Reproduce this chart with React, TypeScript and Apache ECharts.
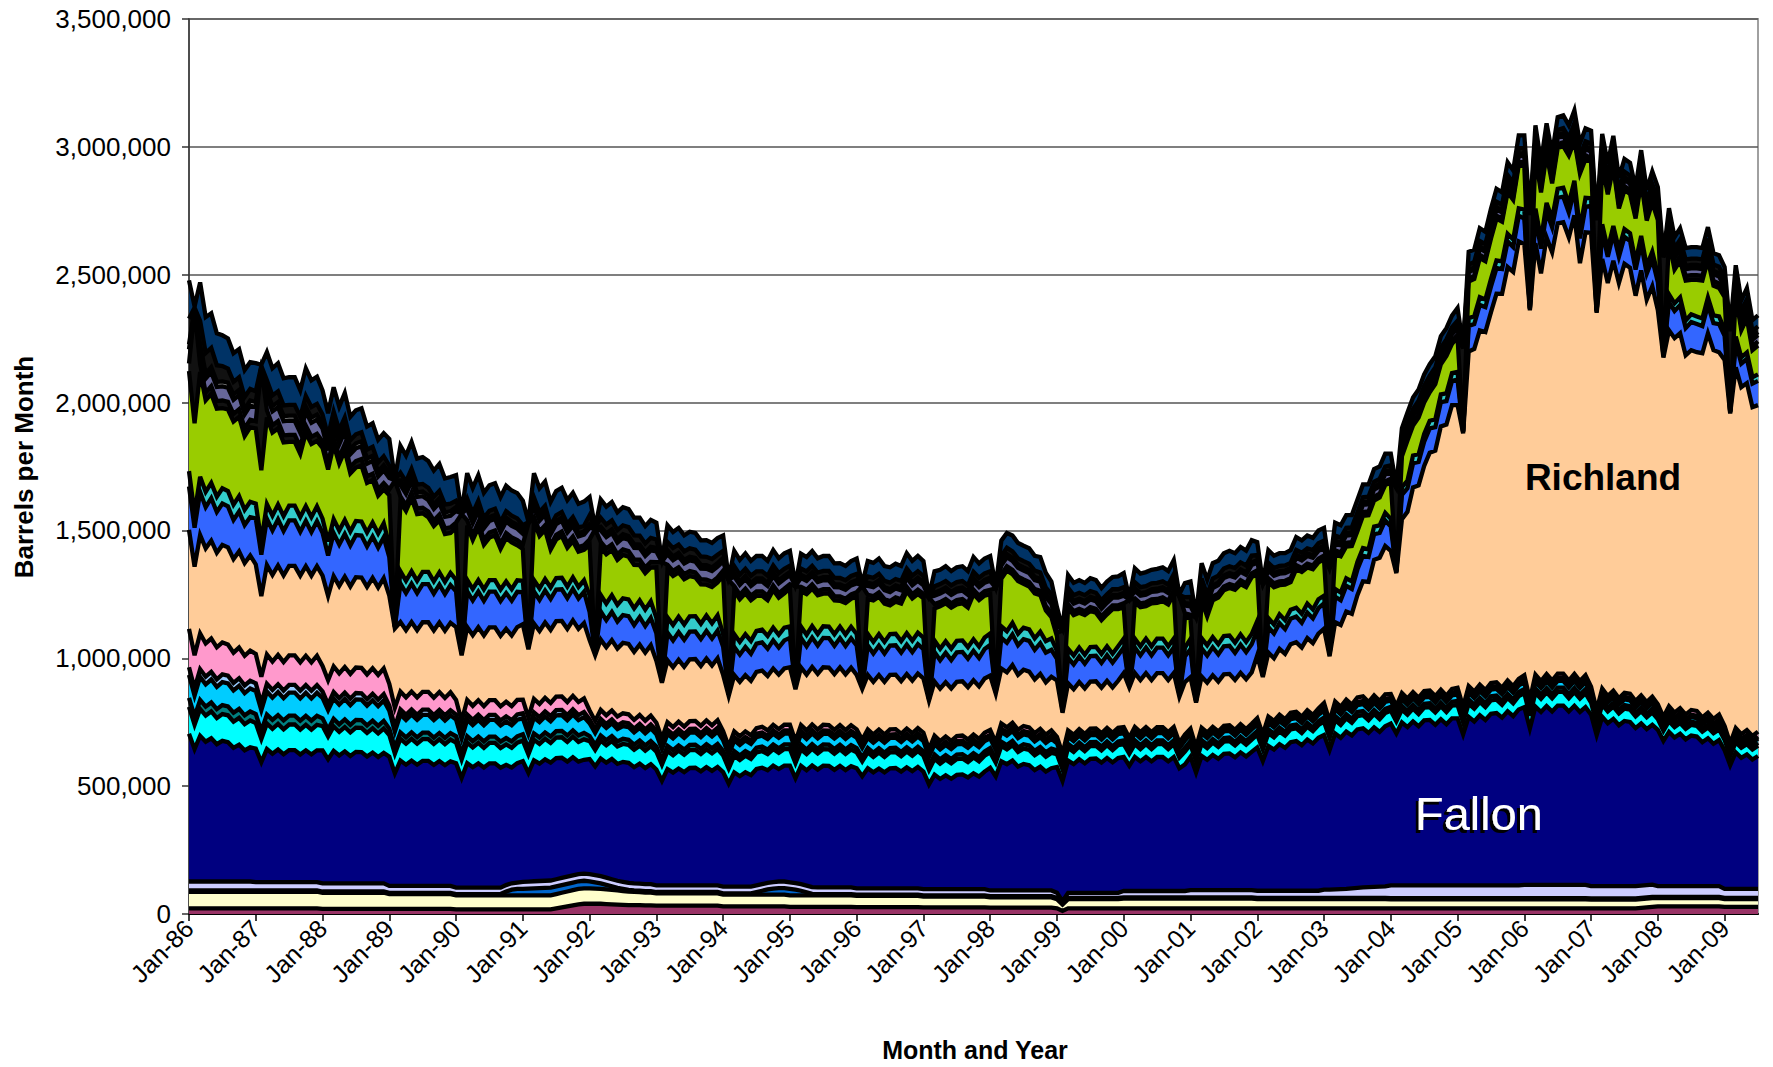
import React, { useEffect, useRef } from "react";
import * as echarts from "echarts";

// ---- categories / tick labels ----
const MONTHS = ["Jan","Feb","Mar","Apr","May","Jun","Jul","Aug","Sep","Oct","Nov","Dec"];
const FIRST_YEAR = 1986;
const MONTH_COUNT = 283; // Jan-86 .. Jul-09
const Y_TICKS = [0, 500000, 1000000, 1500000, 2000000, 2500000, 3000000, 3500000];

// ---- series values, thousands of barrels per month (one row per year) ----
const maroon = [
[22,22,22,22,22,22,22,22,22,22,22,22],[22,22,22,22,22,22,22,22,22,22,22,22],[20,20,20,20,20,20,20,20,20,20,20,20],
[20,20,20,20,20,20,20,20,20,20,20,20],[18,18,18,18,18,18,18,18,18,18,18,18],[18,18,18,18,18,18,22,26,30,34,38,40],
[40,40,40,39,38,37,36,35,35,35,34,34],[33,33,33,33,33,33,33,33,33,33,33,33],[30,30,30,30,30,30,30,30,30,30,30,30],
[28,28,28,28,28,28,28,28,28,28,28,28],[27,27,27,27,27,27,27,27,27,27,27,27],[26,26,26,26,26,26,26,26,26,26,26,26],
[25,25,25,25,25,25,25,25,25,25,25,25],[22,12,22,22,22,22,22,22,22,22,22,22],[22,22,22,22,22,22,22,22,22,22,22,22],
[22,22,22,22,22,22,22,22,22,22,22,22],[22,22,22,22,22,22,22,22,22,22,22,22],[22,22,22,22,22,22,22,22,22,22,22,22],
[22,22,22,22,22,22,22,22,22,22,22,22],[22,22,22,22,22,22,22,22,22,22,22,22],[22,22,22,22,22,22,22,22,22,22,22,22],
[22,22,22,22,22,22,22,22,22,24,26,28],[30,30,30,30,30,30,30,30,30,30,30,30],[28,28,28,28,28,28,28]
].flat();

const yellow = [
[65,65,65,65,65,65,65,65,65,65,65,65],[65,65,65,65,65,65,65,65,65,65,65,65],[63,63,63,63,63,63,63,63,63,63,63,63],
[58,58,58,58,58,58,58,58,58,58,58,58],[55,55,55,55,55,55,55,55,55,55,55,55],[55,55,55,55,55,55,56,57,58,59,60,60],
[60,59,58,57,56,55,54,53,52,51,50,50],[48,48,48,48,48,48,48,48,48,48,48,48],[46,46,46,46,46,46,46,46,46,46,46,46],
[45,45,45,45,45,45,45,45,45,45,45,45],[44,44,44,44,44,44,44,44,44,44,44,44],[42,42,42,42,42,42,42,42,42,42,42,42],
[40,40,40,40,40,40,40,40,40,40,40,40],[36,25,36,36,36,36,36,36,36,36,36,36],[38,38,38,38,38,38,38,38,38,38,38,38],
[38,38,38,38,38,38,38,38,38,38,38,38],[36,36,36,36,36,36,36,36,36,36,36,36],[36,36,36,36,36,36,36,36,36,36,36,36],
[35,35,35,35,35,35,35,35,35,35,35,35],[35,35,35,35,35,35,35,35,35,35,35,35],[35,35,35,35,35,35,35,35,35,35,35,35],
[34,34,34,34,34,34,34,34,34,34,34,34],[32,32,32,32,32,32,32,32,32,32,32,32],[30,30,30,30,30,30,30]
].flat();

const blueSmall = [
[5,5,5,5,5,5,5,5,5,5,5,5],[5,5,5,5,5,5,5,5,5,5,5,5],[5,5,5,5,5,5,5,5,5,5,5,5],
[5,5,5,5,5,5,5,5,5,5,5,5],[5,5,5,5,5,5,5,5,5,15,22,25],[25,26,27,28,29,30,30,30,30,30,30,30],
[28,25,22,18,14,10,8,6,5,5,5,5],[5,5,5,5,5,5,5,5,5,5,5,5],[5,5,5,5,5,5,10,15,20,23,25,25],
[25,22,18,12,6,5,5,5,5,5,5,5],[5,5,5,5,5,5,5,5,5,5,5,5],[5,5,5,5,5,5,5,5,5,5,5,5],
[5,5,5,5,5,5,5,5,5,5,5,5],[5,3,5,5,5,5,5,5,5,5,5,5],[5,5,5,5,5,5,5,5,5,5,5,5],
[5,5,5,5,5,5,5,5,5,5,5,5],[5,5,5,5,5,5,5,5,5,5,5,5],[5,5,5,5,5,5,5,5,5,5,5,5],
[5,5,5,5,5,5,5,5,5,5,5,5],[5,5,5,5,5,5,5,5,5,5,5,5],[5,5,5,5,5,5,5,5,5,5,5,5],
[5,5,5,5,5,5,5,5,5,5,5,5],[5,5,5,5,5,5,5,5,5,5,5,5],[5,5,5,5,5,5,5]
].flat();

const lavender = [
[35,35,35,35,35,35,35,35,35,35,35,35],[33,33,33,33,33,33,33,33,33,33,33,33],[32,32,32,32,32,32,32,32,32,32,32,32],
[27,27,27,27,27,27,27,27,27,27,27,27],[25,25,25,25,25,25,25,25,25,25,25,25],[28,28,28,28,28,28,28,28,28,28,28,28],
[28,28,28,28,28,28,28,28,28,28,28,28],[26,26,26,26,26,26,26,26,26,26,26,26],[26,26,26,26,26,26,26,26,26,26,26,26],
[26,26,26,26,26,26,26,26,26,26,26,26],[24,24,24,24,24,24,24,24,24,24,24,24],[24,24,24,24,24,24,24,24,24,24,24,24],
[22,22,22,22,22,22,22,22,22,22,22,22],[20,10,20,20,20,20,20,20,20,20,20,20],[25,25,25,25,25,25,25,25,25,25,25,25],
[28,28,28,28,28,28,28,28,28,28,28,28],[28,28,28,28,28,28,28,28,28,28,28,28],[32,32,33,34,35,37,39,41,42,43,44,45],
[50,50,50,50,50,50,50,50,50,50,50,50],[50,50,50,50,50,50,50,50,50,50,50,50],[52,52,52,52,52,52,52,52,52,52,52,52],
[48,48,48,48,48,48,48,48,48,48,48,48],[42,42,42,42,42,42,42,42,42,42,42,42],[35,35,35,35,35,35,35]
].flat();

const fallon = [
[578,518,570,547,560,537,550,545,523,535,513,525],[522,469,520,502,518,500,516,516,499,515,499,515],
[520,485,518,500,516,498,514,513,496,511,494,510],[505,440,490,474,490,474,489,489,473,488,472,487],
[487,429,487,471,486,470,486,486,469,470,453,467],[472,425,473,459,475,461,474,470,450,462,440,445],
[450,425,460,450,470,457,469,469,454,469,454,469],[453,409,455,441,457,443,459,460,446,462,448,463],
[448,403,447,432,447,436,455,455,440,455,440,453],[456,410,462,451,476,461,476,475,460,475,459,474],
[470,439,470,454,469,454,470,471,457,473,459,475],[460,410,448,431,445,432,447,449,437,453,440,460],
[480,446,505,494,508,484,495,490,471,484,465,478],[492,470,517,503,522,506,524,525,509,527,510,527],
[524,490,524,507,524,507,524,524,507,524,480,495],[522,460,525,510,529,514,533,535,520,539,523,541],
[560,507,566,552,573,559,581,585,569,591,576,598],[605,546,610,592,615,598,620,622,603,624,605,626],
[633,594,637,619,641,622,645,647,628,650,630,653],[653,590,659,641,665,647,671,674,656,681,662,688],
[695,612,697,676,699,678,701,701,678,700,676,695],[670,590,662,637,654,629,646,642,618,634,610,625],
[611,568,603,581,596,574,589,585,563,578,557,571],[542,484,534,513,526,506,520]
].flat();

const cyan = [
[105,95,105,102,105,102,105,105,102,105,102,105],[100,90,100,97,100,97,100,100,97,100,97,100],
[95,89,95,92,95,92,95,95,92,95,92,95],[85,77,85,82,85,82,85,85,82,85,82,85],
[80,72,80,77,80,77,80,80,77,80,77,80],[80,72,80,77,80,77,80,80,77,80,77,80],
[70,65,70,68,70,68,70,70,68,70,68,70],[70,63,70,68,70,68,70,70,68,70,68,70],
[65,59,65,63,65,63,65,65,63,65,63,65],[65,59,65,63,65,63,65,65,63,65,63,65],
[62,58,62,60,62,60,62,62,60,62,60,62],[62,56,62,60,62,60,62,62,60,62,60,62],
[60,54,60,58,60,58,60,60,58,60,58,60],[50,45,50,48,50,48,50,50,48,50,48,50],
[50,47,50,48,50,48,50,50,48,50,42,50],[48,43,48,46,48,46,48,48,46,48,46,48],
[50,45,50,48,50,48,50,50,48,50,48,50],[52,47,52,50,52,50,52,52,50,52,50,52],
[50,47,50,48,50,48,50,50,48,50,48,50],[52,47,52,50,52,50,52,52,50,52,50,52],
[54,49,54,52,54,52,54,54,52,54,52,54],[48,43,48,46,48,46,48,48,46,48,46,48],
[42,39,42,41,42,41,42,42,41,42,41,42],[40,36,40,39,40,39,40]
].flat();

const teal = [
[35,33,35,35,35,35,35,35,35,35,35,35],[35,32,35,35,35,35,35,35,35,35,35,35],[30,28,30,30,30,30,30,30,30,30,30,30],
[25,23,25,25,25,25,25,25,25,25,25,25],[25,23,25,25,25,25,25,25,25,25,25,25],[25,23,25,25,25,25,25,25,25,25,25,25],
[20,19,20,20,20,20,20,20,20,20,20,20],[20,18,20,20,20,20,20,20,20,20,20,20],[18,16,18,18,18,18,18,18,18,18,18,18],
[18,16,18,18,18,18,18,18,18,18,18,18],[17,16,17,17,17,17,17,17,17,17,17,17],[17,15,17,17,17,17,17,17,17,17,17,17],
[17,15,17,17,17,17,17,17,17,17,17,17],[15,14,15,15,15,15,15,15,15,15,15,15],[15,14,15,15,15,15,15,15,15,15,13,15],
[14,13,14,14,14,14,14,14,14,14,14,14],[15,14,15,15,15,15,15,15,15,15,15,15],[16,14,16,16,16,16,16,16,16,16,16,16],
[15,14,15,15,15,15,15,15,15,15,15,15],[16,14,16,16,16,16,16,16,16,16,16,16],[16,14,16,16,16,16,16,16,16,16,16,16],
[14,13,14,14,14,14,14,14,14,14,14,14],[12,11,12,12,12,12,12,12,12,12,12,12],[12,11,12,12,12,12,12]
].flat();

const sky = [
[90,81,90,87,90,87,90,90,87,90,87,90],[90,81,90,87,90,87,90,90,87,90,87,90],
[80,75,80,77,80,77,80,80,77,80,77,80],[70,63,70,68,70,68,70,70,68,70,68,70],
[65,59,65,63,65,63,65,65,63,65,63,65],[62,56,62,60,62,60,62,62,60,62,60,62],
[50,47,50,48,50,48,50,50,48,50,48,50],[48,43,48,46,48,46,48,48,46,48,46,48],
[42,38,42,41,42,41,42,42,41,42,41,42],[42,38,42,41,42,41,42,42,41,42,41,42],
[40,37,40,39,40,39,40,40,39,40,39,40],[40,36,40,39,40,39,40,40,39,40,39,40],
[38,34,38,37,38,37,38,38,37,38,37,38],[28,25,28,27,28,27,28,28,27,28,27,28],
[28,26,28,27,28,27,28,28,27,28,24,28],[26,23,26,25,26,25,26,26,25,26,25,26],
[25,22,25,24,25,24,25,25,24,25,24,25],[27,24,27,26,27,26,27,27,26,27,26,27],
[25,23,25,24,25,24,25,25,24,25,24,25],[26,23,26,25,26,25,26,26,25,26,25,26],
[27,24,27,26,27,26,27,27,26,27,26,27],[22,20,22,21,22,21,22,22,21,22,21,22],
[18,17,18,17,18,17,18,18,17,18,17,18],[16,14,16,15,16,15,16]
].flat();

const lightBlue = [
[30,28,30,30,30,30,30,30,30,30,30,30],[30,27,30,30,30,30,30,30,30,30,30,30],[25,23,25,25,25,25,25,25,25,25,25,25],
[20,18,20,20,20,20,20,20,20,20,20,20],[20,18,20,20,20,20,20,20,20,20,20,20],[20,18,20,20,20,20,20,20,20,20,20,20],
[15,14,15,15,15,15,15,15,15,15,15,15],[15,14,15,15,15,15,15,15,15,15,15,15],[13,12,13,13,13,13,13,13,13,13,13,13],
[13,12,13,13,13,13,13,13,13,13,13,13],[13,12,13,13,13,13,13,13,13,13,13,13],[13,12,13,13,13,13,13,13,13,13,13,13],
[13,12,13,13,13,13,13,13,13,13,13,13],[10,9,10,10,10,10,10,10,10,10,10,10],[10,9,10,10,10,10,10,10,10,10,9,10],
[10,9,10,10,10,10,10,10,10,10,10,10],[10,9,10,10,10,10,10,10,10,10,10,10],[12,11,12,12,12,12,12,12,12,12,12,12],
[10,9,10,10,10,10,10,10,10,10,10,10],[11,10,11,11,11,11,11,11,11,11,11,11],[12,11,12,12,12,12,12,12,12,12,12,12],
[10,9,10,10,10,10,10,10,10,10,10,10],[9,8,9,9,9,9,9,9,9,9,9,9],[8,7,8,8,8,8,8]
].flat();

const pink = [
[150,130,140,130,130,125,125,122,118,120,116,118],[115,104,115,111,115,111,115,115,111,115,111,115],
[100,94,100,97,100,97,100,100,97,100,97,100],[85,76,70,68,70,68,70,70,68,70,68,70],
[57,51,57,55,57,55,57,57,55,57,55,57],[53,48,53,51,53,51,53,53,51,53,51,53],
[35,33,35,34,35,34,35,35,34,35,34,35],[30,27,30,29,30,29,30,30,29,30,29,30],
[22,20,22,21,22,21,22,22,21,22,21,22],[22,20,22,21,22,21,22,22,21,22,21,22],
[20,19,20,19,20,19,20,20,19,20,19,20],[20,18,20,19,20,19,20,20,19,20,19,20],
[20,18,20,19,20,19,20,20,19,20,19,20],[15,14,15,15,15,15,15,15,15,15,15,15],
[14,13,14,14,14,14,14,14,14,14,12,14],[12,11,12,12,12,12,12,12,12,12,12,12],
[15,14,15,15,15,15,15,15,15,15,15,15],[18,16,18,17,18,17,18,18,17,18,17,18],
[15,14,15,15,15,15,15,15,15,15,15,15],[15,14,15,15,15,15,15,15,15,15,15,15],
[16,14,16,15,16,15,16,16,15,16,15,16],[16,14,16,15,16,15,16,16,15,16,15,16],
[19,18,19,18,19,18,19,19,18,19,18,19],[19,17,19,18,19,18,19]
].flat();

const richland = [
[387,346,385,372,383,370,381,380,366,376,362,372],[350,315,350,339,350,339,350,350,339,350,339,350],
[353,330,353,342,353,342,353,353,342,353,342,353],[345,310,272,263,272,263,272,272,263,272,263,272],
[285,257,285,276,285,276,285,285,276,285,276,285],[295,266,295,286,295,286,295,295,286,295,286,295],
[275,257,275,266,275,266,275,275,266,275,266,275],[242,218,242,234,242,234,242,242,234,242,234,242],
[220,198,220,213,220,213,220,220,213,220,213,220],[225,203,225,218,225,218,225,225,218,225,218,225],
[213,199,213,206,213,206,213,213,206,213,206,213],[212,191,212,205,212,205,212,212,205,212,205,212],
[212,191,215,215,225,215,220,218,210,215,205,210],[220,160,184,178,184,178,184,184,178,184,178,184],
[211,197,211,204,211,204,211,211,204,211,180,205],[201,175,201,195,201,195,201,201,195,201,195,201],
[245,225,250,245,258,255,268,272,270,282,280,292],[290,255,310,320,345,355,400,450,470,530,560,580],
[560,520,680,730,800,830,880,930,960,1030,1060,1110],[1105,1070,1309,1340,1385,1400,1450,1520,1540,1617,1620,1710],
[1686,1523,1687,1594,1708,1675,1761,1765,1733,1793,1634,1732],[1775,1553,1681,1616,1682,1624,1678,1666,1585,1662,1573,1605],
[1541,1406,1471,1465,1466,1405,1407,1403,1424,1484,1442,1417],[1431,1290,1411,1357,1357,1286,1277]
].flat();

const blue = [
[170,153,168,161,166,159,162,160,153,156,149,150],[180,162,180,174,180,174,178,178,172,177,171,176],
[168,158,168,162,167,160,165,164,158,162,156,160],[150,5,150,145,150,145,149,149,144,148,143,147],
[140,5,140,136,140,136,140,140,136,140,136,138],[125,5,125,121,125,121,124,124,120,123,119,122],
[110,5,110,106,110,106,109,109,105,108,104,107],[108,5,108,105,108,105,108,108,105,108,105,108],
[110,5,110,106,110,106,110,110,106,110,106,110],[115,5,115,111,115,111,115,115,111,115,111,115],
[115,5,115,111,115,111,115,115,111,115,111,115],[115,5,115,111,115,111,115,115,111,115,111,115],
[120,5,120,116,120,116,120,120,116,120,116,105],[85,5,100,97,100,97,100,100,97,100,97,100],
[100,5,100,97,100,97,100,100,97,100,5,100],[110,5,110,106,110,106,110,110,106,110,106,110],
[100,5,100,97,100,97,100,100,97,100,97,100],[100,5,100,97,100,97,100,100,97,100,97,100],
[95,5,95,92,95,92,95,95,92,95,92,95],[100,5,100,97,100,97,100,100,97,100,97,100],
[100,5,100,97,100,97,100,100,97,100,97,100],[105,5,105,102,105,102,105,105,102,105,102,105],
[110,5,110,106,110,106,110,110,106,110,106,110],[95,5,95,92,95,92,95]
].flat();

const turquoise = [
[60,54,60,60,60,60,60,60,60,60,60,60],[58,52,58,58,58,58,58,58,58,58,58,58],[55,55,55,55,55,55,55,55,55,55,55,55],
[48,2,48,48,48,48,48,48,48,48,48,48],[45,2,45,45,45,45,45,45,45,45,45,45],[45,2,45,45,45,45,45,45,45,45,45,45],
[65,2,65,65,65,65,65,65,65,65,65,65],[60,2,60,60,60,60,60,60,60,60,60,60],[50,2,50,50,50,50,50,50,50,50,50,50],
[45,2,45,45,45,45,45,45,45,45,45,45],[45,2,45,45,45,45,45,45,45,45,45,45],[45,2,45,45,45,45,45,45,45,45,45,45],
[45,2,45,45,45,45,45,45,45,45,45,45],[31,2,35,35,35,35,35,35,35,35,35,35],[35,2,35,35,35,35,35,35,35,35,2,35],
[40,2,40,40,40,40,40,40,40,40,40,40],[35,2,35,35,35,35,35,35,35,35,35,35],[30,2,30,30,30,30,30,30,30,30,30,30],
[30,2,30,30,30,30,30,30,30,30,30,30],[30,2,30,30,30,30,30,30,30,30,30,30],[35,2,35,35,35,35,35,35,35,35,35,35],
[30,2,30,30,30,30,30,30,30,30,30,30],[30,2,30,30,30,30,30,30,30,30,30,30],[25,2,25,25,25,25,25]
].flat();

const green = [
[391,354,410,358,348,344,313,319,325,310,288,291],[294,278,339,325,298,288,249,249,246,286,286,256],
[277,281,291,262,271,227,209,219,194,166,148,132],[195,3,271,273,286,261,229,214,216,204,187,156],
[204,3,212,192,205,174,166,174,159,170,183,137],[124,3,229,205,192,148,151,163,152,142,138,119],
[197,3,185,193,177,176,170,167,170,138,142,132],[198,3,186,192,174,177,157,151,154,121,142,128],
[229,3,170,167,160,159,137,132,140,147,145,134],[148,3,138,159,146,151,128,129,132,101,123,110],
[146,3,136,162,147,150,112,125,147,164,165,151],[154,3,126,166,149,160,143,145,155,177,182,164],
[154,3,186,237,191,206,171,168,176,143,120,83],[57,3,160,158,136,155,141,133,132,125,174,145],
[123,3,142,153,127,168,140,146,163,174,3,119],[79,3,148,113,144,183,179,186,207,197,214,222],
[183,3,141,146,114,139,108,151,164,141,157,144],[142,3,136,142,124,138,120,126,133,102,109,108],
[145,3,121,157,117,144,123,111,138,118,146,115],[133,3,143,146,153,150,158,163,155,163,155,168],
[170,3,206,185,191,137,160,163,188,156,219,151],[142,3,232,214,231,159,153,154,170,213,178,192],
[213,3,209,132,143,156,135,143,148,147,116,111],[126,3,161,106,133,106,113]
].flat();

const darkA = [
[30,440,30,30,30,30,30,30,30,30,30,30],[28,400,28,28,28,28,28,28,28,28,28,28],[25,25,25,25,25,25,25,25,25,25,25,25],
[22,567,22,22,22,22,22,22,22,22,22,22],[20,542,20,20,20,20,20,20,20,20,20,20],[18,482,18,18,18,18,18,18,18,18,18,18],
[22,482,22,22,22,22,22,22,22,22,22,22],[20,462,20,20,20,20,20,20,20,20,20,20],[18,442,18,18,18,18,18,18,18,18,18,18],
[17,392,17,17,17,17,17,17,17,17,17,17],[17,392,17,17,17,17,17,17,17,17,17,17],[17,392,17,17,17,17,17,17,17,17,17,17],
[17,402,17,17,17,17,17,17,17,17,17,17],[13,312,15,15,15,15,15,15,15,15,15,15],[15,332,15,15,15,15,15,15,15,15,382,15],
[15,322,15,15,15,15,15,15,15,15,15,15],[15,352,15,15,15,15,15,15,15,15,15,15],[15,332,15,15,15,15,15,15,15,15,15,15],
[12,322,12,12,12,12,12,12,12,12,12,12],[12,322,12,12,12,12,12,12,12,12,12,12],[15,362,15,15,15,15,15,15,15,15,15,15],
[15,352,15,15,15,15,15,15,15,15,15,15],[18,382,18,18,18,18,18,18,18,18,18,18],[16,312,16,16,16,16,16]
].flat();

const slate = [
[55,5,55,55,55,55,55,55,55,55,55,55],[55,3,55,55,55,55,55,55,55,55,55,55],[50,50,50,50,50,50,50,50,50,50,50,50],
[45,2,45,45,45,45,45,45,45,45,45,45],[45,2,45,45,45,45,45,45,45,45,45,45],[42,2,42,42,42,42,42,42,42,42,42,42],
[45,2,45,45,45,45,45,45,45,45,45,45],[42,2,42,42,42,42,42,42,42,42,42,42],[38,2,38,38,38,38,38,38,38,38,38,38],
[35,2,35,35,35,35,35,35,35,35,35,35],[35,2,35,35,35,35,35,35,35,35,35,35],[33,2,33,33,33,33,33,33,33,33,33,33],
[35,2,35,35,35,35,35,35,35,35,35,35],[27,2,30,30,30,30,30,30,30,30,30,30],[30,2,30,30,30,30,30,30,30,30,2,30],
[33,2,33,33,33,33,33,33,33,33,33,33],[30,2,30,30,30,30,30,30,30,30,30,30],[28,2,28,28,28,28,28,28,28,28,28,28],
[25,2,25,25,25,25,25,25,25,25,25,25],[25,2,25,25,25,25,25,25,25,25,25,25],[25,2,25,25,25,25,25,25,25,25,25,25],
[25,2,25,25,25,25,25,25,25,25,25,25],[27,2,27,27,27,27,27,27,27,27,27,27],[25,2,25,25,25,25,25]
].flat();

const grey = [
[20,2,20,20,20,20,20,20,20,20,20,20],[20,2,20,20,20,20,20,20,20,20,20,20],[20,20,20,20,20,20,20,20,20,20,20,20],
[18,1,18,18,18,18,18,18,18,18,18,18],[15,1,15,15,15,15,15,15,15,15,15,15],[12,1,12,12,12,12,12,12,12,12,12,12],
[14,1,14,14,14,14,14,14,14,14,14,14],[14,1,14,14,14,14,14,14,14,14,14,14],[12,1,12,12,12,12,12,12,12,12,12,12],
[12,1,12,12,12,12,12,12,12,12,12,12],[12,1,12,12,12,12,12,12,12,12,12,12],[12,1,12,12,12,12,12,12,12,12,12,12],
[12,1,12,12,12,12,12,12,12,12,12,12],[9,1,10,10,10,10,10,10,10,10,10,10],[10,1,10,10,10,10,10,10,10,10,1,10],
[10,1,10,10,10,10,10,10,10,10,10,10],[10,1,10,10,10,10,10,10,10,10,10,10],[10,1,10,10,10,10,10,10,10,10,10,10],
[8,1,8,8,8,8,8,8,8,8,8,8],[8,1,8,8,8,8,8,8,8,8,8,8],[10,1,10,10,10,10,10,10,10,10,10,10],
[10,1,10,10,10,10,10,10,10,10,10,10],[13,1,13,13,13,13,13,13,13,13,13,13],[12,1,12,12,12,12,12]
].flat();

const darkB = [
[100,5,95,80,75,65,60,55,50,50,48,45],[42,3,42,42,42,42,42,42,42,42,42,42],[35,35,35,35,35,35,35,35,35,35,35,35],
[30,2,30,30,30,30,30,30,30,30,30,30],[25,2,25,25,25,25,25,25,25,25,25,25],[22,2,22,22,22,22,22,22,22,22,22,22],
[35,2,35,35,35,35,35,35,35,35,35,35],[33,2,33,33,33,33,33,33,33,33,33,33],[28,2,28,28,28,28,28,28,28,28,28,28],
[25,2,25,25,25,25,25,25,25,25,25,25],[25,2,25,25,25,25,25,25,25,25,25,25],[25,2,25,25,25,25,25,25,25,25,25,25],
[25,2,25,25,25,25,25,25,25,25,25,25],[20,2,23,23,23,23,23,23,23,23,23,23],[23,2,23,23,23,23,23,23,23,23,2,23],
[27,2,27,27,27,27,27,27,27,27,27,27],[20,2,20,20,20,20,20,20,20,20,20,20],[20,2,20,20,20,20,20,20,20,20,20,20],
[20,2,20,20,20,20,20,20,20,20,20,20],[22,2,22,22,22,22,22,22,22,22,22,22],[20,2,20,20,20,20,20,20,20,20,20,20],
[22,2,22,22,22,22,22,22,22,22,22,22],[25,2,25,25,25,25,25,25,25,25,25,25],[22,2,22,22,22,22,22]
].flat();

const navy = [
[150,5,150,140,135,125,120,118,112,110,105,105],[110,5,110,106,110,106,108,108,104,108,104,106],
[95,90,95,92,95,92,94,94,90,92,89,90],[105,3,105,102,105,102,105,105,102,105,102,104],
[100,3,100,98,100,98,100,100,98,100,98,99],[95,3,95,93,95,93,95,95,93,95,93,95],
[72,3,72,70,72,70,71,71,69,70,68,70],[65,3,65,63,65,63,65,65,63,65,63,65],
[60,3,60,58,60,58,60,60,58,60,58,60],[58,3,58,56,58,56,58,58,56,58,56,58],
[60,3,60,58,60,58,60,60,58,60,58,60],[58,3,58,56,58,56,58,58,56,58,56,58],
[60,3,60,58,62,60,60,60,58,60,58,50],[45,3,50,48,50,48,50,50,48,50,48,50],
[55,3,55,53,55,53,55,55,53,55,3,55],[60,3,60,58,60,58,60,60,58,60,58,60],
[50,3,50,48,50,48,50,50,48,50,48,50],[50,3,50,48,50,48,50,50,48,50,48,50],
[45,3,45,44,45,44,45,45,44,45,44,45],[50,3,50,48,50,48,50,50,48,50,48,50],
[50,3,50,48,50,48,50,50,48,50,48,50],[50,3,50,48,50,48,50,50,48,50,48,50],
[45,3,45,44,45,44,45,45,44,45,44,45],[43,3,43,42,43,42,43]
].flat();

const LAYERS = [
  { name: "Layer 1", color: "#993366", data: maroon },
  { name: "Layer 2", color: "#FFFFCC", data: yellow },
  { name: "Layer 3", color: "#0066CC", data: blueSmall },
  { name: "Layer 4", color: "#CCCCFF", data: lavender },
  { name: "Fallon", color: "#000080", data: fallon },
  { name: "Layer 6", color: "#00FFFF", data: cyan },
  { name: "Layer 7", color: "#008080", data: teal },
  { name: "Layer 8", color: "#00CCFF", data: sky },
  { name: "Layer 9", color: "#99CCFF", data: lightBlue },
  { name: "Layer 10", color: "#FF99CC", data: pink },
  { name: "Richland", color: "#FFCC99", data: richland },
  { name: "Layer 12", color: "#3366FF", data: blue },
  { name: "Layer 13", color: "#33CCCC", data: turquoise },
  { name: "Layer 14", color: "#99CC00", data: green },
  { name: "Layer 15", color: "#111111", data: darkA },
  { name: "Layer 16", color: "#666699", data: slate },
  { name: "Layer 17", color: "#969696", data: grey },
  { name: "Layer 18", color: "#111111", data: darkB },
  { name: "Layer 19", color: "#003366", data: navy },
];

const FONT = '"Liberation Sans", Arial, Helvetica, sans-serif';

function buildCategories(): string[] {
  const out: string[] = [];
  for (let i = 0; i < MONTH_COUNT; i++) {
    const y = (FIRST_YEAR + Math.floor(i / 12)) % 100;
    out.push(MONTHS[i % 12] + "-" + String(y).padStart(2, "0"));
  }
  return out;
}

export default function App() {
  const ref = useRef<HTMLDivElement>(null);
  useEffect(() => {
    if (!ref.current) return;
    const chart = echarts.init(ref.current, undefined, { renderer: "svg" });
    const categories = buildCategories();
    const areaSeries = LAYERS.map((l) => ({
      type: "line",
      name: l.name,
      stack: "areas",
      data: l.data.map((v) => v * 1000),
      symbol: "none",
      showSymbol: false,
      lineStyle: { width: 0, opacity: 0 },
      areaStyle: { color: l.color, opacity: 1 },
      itemStyle: { color: l.color },
      z: 2,
      silent: true,
    }));
    const edgeSeries = LAYERS.map((l) => ({
      type: "line",
      name: l.name + " edge",
      stack: "edges",
      data: l.data.map((v) => v * 1000),
      symbol: "none",
      showSymbol: false,
      lineStyle: { color: "#000000", width: 4.3, join: "miter", miterLimit: 10 },
      itemStyle: { color: "#000000" },
      z: 3,
      silent: true,
    }));
    chart.setOption({
      animation: false,
      backgroundColor: "#ffffff",
      grid: {
        left: 189,
        right: 15,
        top: 19,
        bottom: 153,
        show: true,
        borderColor: "#a0a0a0",
        borderWidth: 2,
        backgroundColor: "transparent",
      },
      xAxis: {
        type: "category",
        data: categories,
        boundaryGap: false,
        axisLine: { show: true, lineStyle: { color: "#000000", width: 2 } },
        axisTick: { show: true, interval: 11, length: 7, lineStyle: { color: "#000000", width: 1.5 } },
        axisLabel: {
          interval: 11,
          rotate: 45,
          margin: 10,
          fontFamily: FONT,
          fontSize: 25,
          color: "#000000",
        },
        splitLine: { show: false },
      },
      yAxis: {
        type: "value",
        min: 0,
        max: Y_TICKS[Y_TICKS.length - 1],
        interval: Y_TICKS[1] - Y_TICKS[0],
        axisLine: { show: true, lineStyle: { color: "#333333", width: 1.5 } },
        axisTick: { show: true, length: 7, lineStyle: { color: "#333333", width: 1.5 } },
        axisLabel: {
          margin: 18,
          fontFamily: FONT,
          fontSize: 26,
          color: "#000000",
          formatter: (v: number) => v.toLocaleString("en-US"),
        },
        splitLine: { show: true, lineStyle: { color: "#555555", width: 1.5 } },
      },
      series: [...areaSeries, ...edgeSeries],
      graphic: [
        {
          type: "text",
          x: 24,
          y: 467,
          rotation: Math.PI / 2,
          style: {
            text: "Barrels per Month",
            fill: "#000000",
            font: "bold 26px " + FONT,
            align: "center",
            verticalAlign: "middle",
            textAlign: "center",
            textVerticalAlign: "middle",
          },
        },
        {
          type: "text",
          x: 975,
          y: 1050,
          style: {
            text: "Month and Year",
            fill: "#000000",
            font: "bold 25px " + FONT,
            align: "center",
            verticalAlign: "middle",
            textAlign: "center",
            textVerticalAlign: "middle",
          },
        },
        {
          type: "text",
          x: 1603,
          y: 477,
          z: 10,
          style: {
            text: "Richland",
            fill: "#000000",
            font: "bold 37px " + FONT,
            align: "center",
            verticalAlign: "middle",
            textAlign: "center",
            textVerticalAlign: "middle",
          },
        },
        {
          type: "text",
          x: 1479,
          y: 813,
          z: 11,
          style: {
            text: "Fallon",
            fill: "#ffffff",
            font: "47px " + FONT,
            align: "center",
            verticalAlign: "middle",
            shadowColor: "#000000",
            shadowBlur: 1,
            shadowOffsetX: -3,
            shadowOffsetY: 3,
            textShadowColor: "#000000",
            textShadowBlur: 1,
            textShadowOffsetX: -3,
            textShadowOffsetY: 3,
          },
        },
      ],
    });
    return () => chart.dispose();
  }, []);
  return (
    <div
      ref={ref}
      style={{ position: "absolute", left: 0, top: 0, width: 1773, height: 1067, background: "#fff" }}
    />
  );
}
